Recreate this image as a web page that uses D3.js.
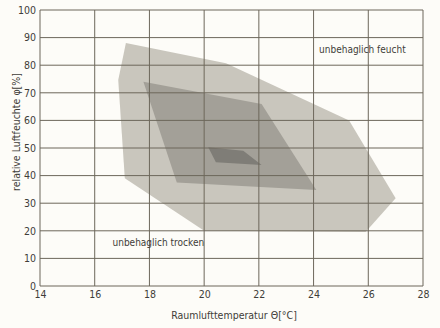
<!DOCTYPE html>
<html>
<head>
<meta charset="utf-8">
<script src="https://cdn.jsdelivr.net/npm/d3@7"></script>
<style>
  body { margin: 0; background: #fdfcf8; }
  text { font-family: "DejaVu Sans", sans-serif; font-stretch: condensed; fill: #3f3d38; }
</style>
</head>
<body>
<div id="chart"></div>
<script>
(function () {

    // comfort zones: [temperature °C, relative humidity %]
    var outer_zone = [[17.14, 88], [20.8, 80.7], [25.3, 60], [27.0, 31.8], [25.9, 19.6], [20.0, 20], [17.1, 39], [16.86, 74.6]];
    var middle_zone = [[17.78, 74], [22.1, 65.9], [24.1, 34.8], [19.0, 37.5]];
    var inner_zone = [[20.15, 50.3], [21.43, 49], [22.1, 43.8], [20.43, 44.8]];

    var x_ticks = [14, 16, 18, 20, 22, 24, 26, 28];
    var y_ticks = [0, 10, 20, 30, 40, 50, 60, 70, 80, 90, 100];

    var zone_labels = [
        { text: "unbehaglich feucht", t: 24.2, rh: 84.5 },
        { text: "unbehaglich trocken", t: 16.65, rh: 14.5 }
    ];

    var width = 440, height = 328;
    var margin = { left: 40, right: 17, top: 10, bottom: 42 };

    var x = d3.scaleLinear().domain([14, 28]).range([margin.left, width - margin.right]);
    var y = d3.scaleLinear().domain([0, 100]).range([height - margin.bottom, margin.top]);

    var svg = d3.select("#chart").append("svg")
        .attr("width", width)
        .attr("height", height);

    var line = d3.line()
        .x(function (d) { return x(d[0]); })
        .y(function (d) { return y(d[1]); })
        .curve(d3.curveLinearClosed);

    var zones = [
        { pts: outer_zone, fill: "#c9c6bd" },
        { pts: middle_zone, fill: "#a3a098" },
        { pts: inner_zone, fill: "#7f7d77" }
    ];

    svg.selectAll("path.zone")
        .data(zones)
        .enter()
        .append("path")
        .attr("class", "zone")
        .attr("d", function (d) { return line(d.pts); })
        .style("fill", function (d) { return d.fill; });

    // grid
    var grid = svg.append("g").style("stroke", "#6d675b").style("stroke-width", 1);
    grid.selectAll("line.v")
        .data(x_ticks)
        .enter()
        .append("line")
        .attr("x1", function (d) { return x(d); })
        .attr("x2", function (d) { return x(d); })
        .attr("y1", y(0))
        .attr("y2", y(100));
    grid.selectAll("line.h")
        .data(y_ticks)
        .enter()
        .append("line")
        .attr("x1", x(14))
        .attr("x2", x(28))
        .attr("y1", function (d) { return y(d); })
        .attr("y2", function (d) { return y(d); });

    // axes (labels only)
    var xAxis = svg.append("g")
        .attr("transform", "translate(0," + y(0) + ")")
        .call(d3.axisBottom(x).tickValues(x_ticks).tickSize(0).tickPadding(5));
    var yAxis = svg.append("g")
        .attr("transform", "translate(" + x(14) + ",0)")
        .call(d3.axisLeft(y).tickValues(y_ticks).tickSize(0).tickPadding(4));
    [xAxis, yAxis].forEach(function (a) {
        a.select(".domain").remove();
        a.selectAll("text").style("font-size", "10.5px")
            .style("font-family", '"DejaVu Sans", sans-serif')
            .style("font-stretch", "condensed")
            .style("fill", "#3f3d38");
    });

    svg.append("text")
        .attr("x", 234)
        .attr("y", 319)
        .attr("text-anchor", "middle")
        .style("font-size", "10.5px")
        .text("Raumlufttemperatur \u0398[\u00b0C]");

    svg.append("text")
        .attr("transform", "translate(20,132) rotate(-90)")
        .attr("text-anchor", "middle")
        .style("font-size", "10.5px")
        .text("relative Luftfeuchte \u03c6[%]");

    svg.selectAll("text.zone-label")
        .data(zone_labels)
        .enter()
        .append("text")
        .attr("class", "zone-label")
        .attr("x", function (d) { return x(d.t); })
        .attr("y", function (d) { return y(d.rh); })
        .style("font-size", "10px")
        .text(function (d) { return d.text; });
})();
</script>
</body>
</html>
